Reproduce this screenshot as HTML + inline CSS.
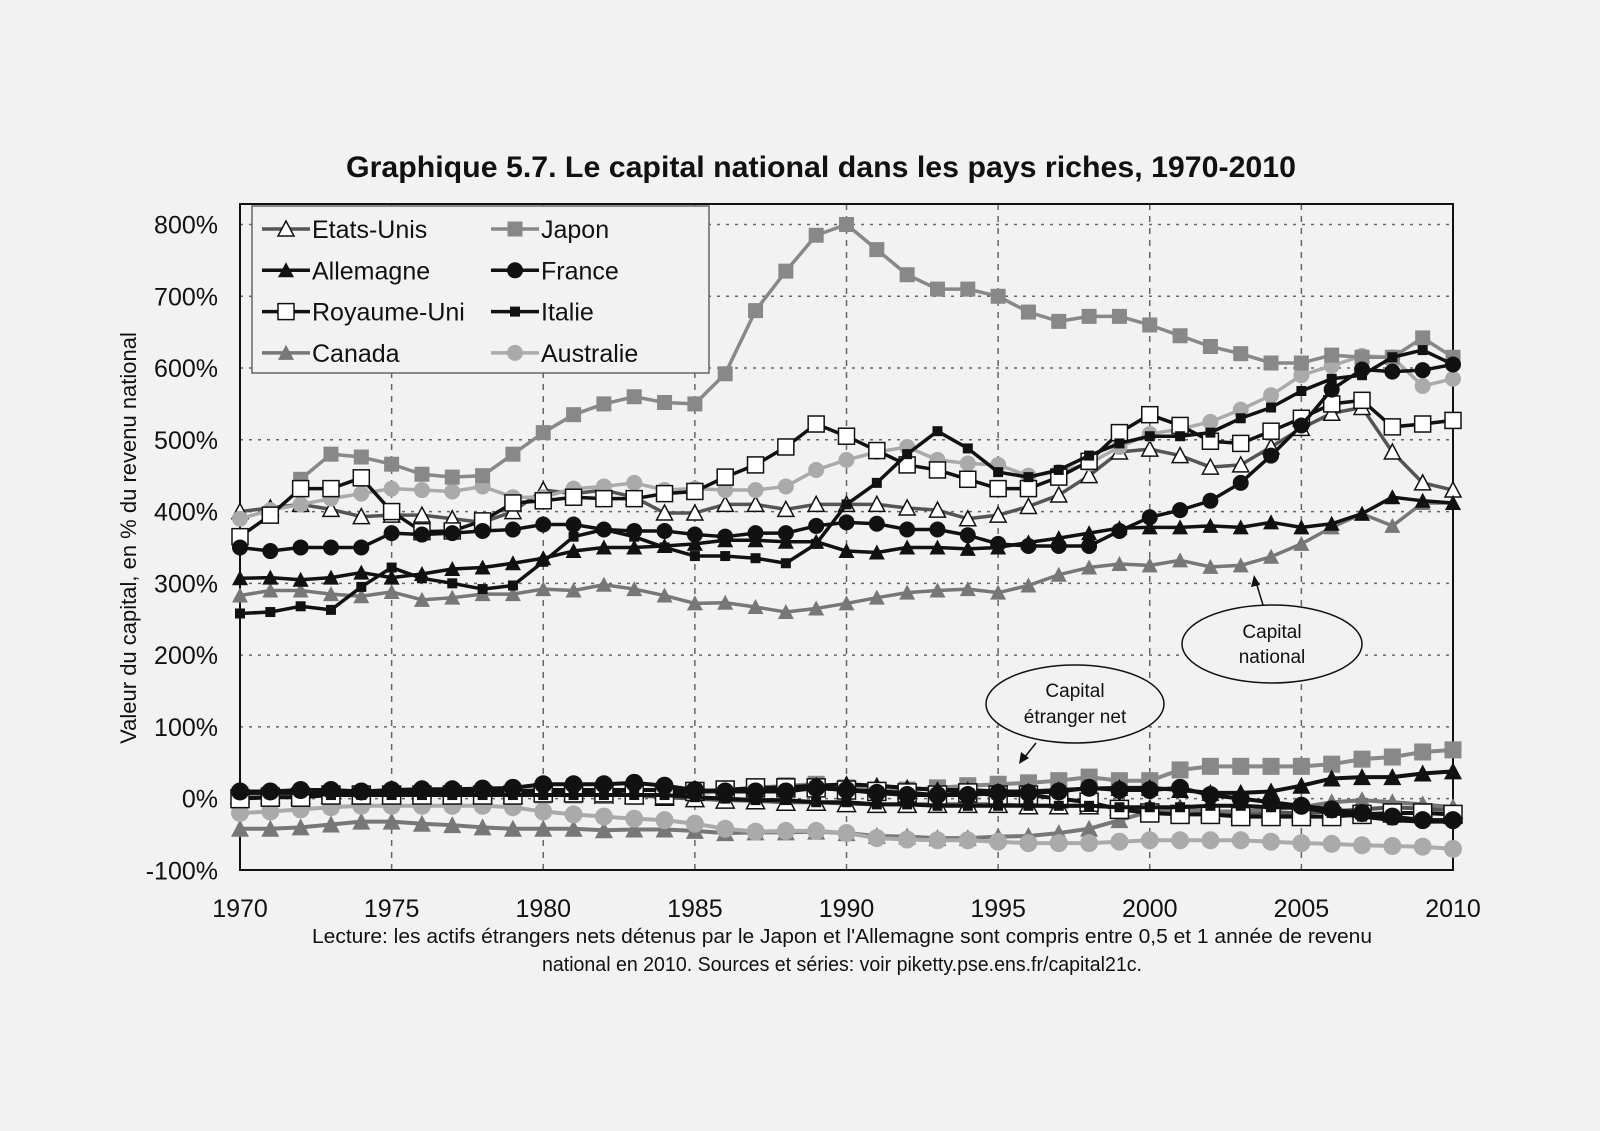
<!DOCTYPE html>
<html><head><meta charset="utf-8"><style>
body{margin:0;background:#f2f2f2;}
svg{display:block;font-family:"Liberation Sans",Arial,sans-serif;}
</style></head><body>
<svg id="chart" width="1600" height="1131" viewBox="0 0 1600 1131">
<rect x="0" y="0" width="1600" height="1131" fill="#f2f2f2"/>
<text x="821" y="177" text-anchor="middle" font-size="30" font-weight="bold" fill="#111" textLength="950" lengthAdjust="spacingAndGlyphs">Graphique 5.7. Le capital national dans les pays riches, 1970-2010</text>
<g id="grid"></g>
<g id="axes"></g>
<g id="series"></g>
<text transform="translate(136,538) rotate(-90)" text-anchor="middle" font-size="22" fill="#111">Valeur du capital, en % du revenu national</text>
<g>
<ellipse cx="1272" cy="644" rx="90" ry="39" fill="#f2f2f2" stroke="#111" stroke-width="1.5"/>
<text x="1272" y="638" text-anchor="middle" font-size="19" fill="#111">Capital</text>
<text x="1272" y="663" text-anchor="middle" font-size="19" fill="#111">national</text>
<line x1="1263" y1="605" x2="1256" y2="582" stroke="#111" stroke-width="1.5"/>
<polygon points="1254,575 1251,587 1260,585" fill="#111"/>
</g>
<g>
<ellipse cx="1075" cy="704" rx="89" ry="39" fill="#f2f2f2" stroke="#111" stroke-width="1.5"/>
<text x="1075" y="697" text-anchor="middle" font-size="19" fill="#111">Capital</text>
<text x="1075" y="723" text-anchor="middle" font-size="19" fill="#111">étranger net</text>
<line x1="1036" y1="743" x2="1024" y2="758" stroke="#111" stroke-width="1.5"/>
<polygon points="1019,764 1021,752 1029,758" fill="#111"/>
</g>
<g id="legend"></g>
<text x="842" y="943" text-anchor="middle" font-size="20" fill="#111" textLength="1060" lengthAdjust="spacingAndGlyphs">Lecture: les actifs étrangers nets détenus par le Japon et l'Allemagne sont compris entre 0,5 et 1 année de revenu</text>
<text x="842" y="971" text-anchor="middle" font-size="20" fill="#111" textLength="600" lengthAdjust="spacingAndGlyphs">national en 2010. Sources et séries: voir piketty.pse.ens.fr/capital21c.</text>
</svg>
<script>
const years=[];for(let y=1970;y<=2010;y++)years.push(y);
const yTicks=[-100,0,100,200,300,400,500,600,700,800];
const xTicks=[1970,1975,1980,1985,1990,1995,2000,2005,2010];
const usNat=[400,405,410,403,393,395,395,390,385,400,430,425,430,420,398,398,410,410,403,410,410,410,405,402,390,395,407,423,450,483,487,478,462,465,490,516,537,545,483,440,430];
const deNat=[307,308,305,308,315,308,313,320,322,328,335,345,350,350,352,355,360,360,358,358,345,343,350,350,348,350,357,363,370,377,378,378,380,378,385,378,383,397,420,415,412];
const ukNat=[365,395,432,432,447,400,372,373,387,412,415,420,418,418,425,428,448,465,490,522,505,485,465,458,445,432,432,448,470,510,535,520,498,495,512,530,550,555,518,522,527];
const caNat=[283,290,290,285,282,288,277,280,285,285,292,290,298,292,283,272,273,267,260,265,272,280,287,290,292,287,297,312,322,327,325,332,323,325,337,355,378,397,380,412,412];
const jpNat=[null,null,445,480,476,466,452,448,450,480,510,535,550,560,552,550,592,680,735,785,800,765,730,710,710,700,678,665,672,672,660,645,630,620,607,607,618,615,615,642,615];
const frNat=[350,345,350,350,350,370,368,370,373,375,382,382,375,373,373,368,365,370,370,380,385,383,375,375,367,355,352,352,352,373,392,402,415,440,478,520,570,598,595,597,605];
const itNat=[258,260,268,263,295,322,307,300,292,297,330,365,375,365,350,338,338,335,328,355,410,440,480,512,488,455,448,458,478,495,505,505,510,530,545,568,585,590,615,625,605];
const auNat=[390,402,410,418,425,432,430,428,435,420,420,432,435,440,430,432,430,430,435,458,472,483,490,472,467,465,450,455,467,490,508,515,525,542,562,590,603,617,615,575,585];
const usFor=[5,5,5,5,5,5,5,5,5,5,8,8,5,5,2,0,-2,-3,-5,-5,-7,-8,-8,-8,-8,-8,-10,-10,-10,-12,-15,-15,-18,-20,-20,-20,-18,-15,-12,-14,-16];
const deFor=[10,10,10,10,10,10,10,10,10,10,12,12,12,12,12,10,12,14,16,18,20,18,15,12,12,10,10,12,14,15,15,12,8,8,10,18,28,30,30,35,38];
const ukFor=[0,2,2,5,5,5,5,5,5,5,8,8,8,5,5,10,12,15,15,15,12,10,8,5,8,5,5,0,-5,-15,-20,-22,-22,-25,-25,-25,-25,-22,-20,-20,-22];
const caFor=[-42,-42,-40,-36,-32,-32,-35,-37,-40,-42,-42,-42,-44,-43,-43,-45,-48,-47,-47,-46,-48,-52,-53,-55,-55,-53,-52,-48,-42,-30,-18,-15,-18,-18,-15,-12,-5,-2,-5,-8,-12];
const jpFor=[5,5,5,5,5,5,5,5,5,5,5,5,5,5,5,8,10,15,18,20,15,12,12,15,18,20,22,25,30,25,25,40,45,45,45,45,48,55,58,65,68];
const frFor=[10,10,12,12,10,12,13,13,14,15,20,20,20,22,18,12,10,10,10,15,12,8,5,5,5,8,8,10,15,12,12,15,5,0,-5,-10,-15,-20,-25,-30,-30];
const itFor=[8,8,8,5,5,5,5,5,5,5,5,5,5,5,5,2,0,-2,-2,-5,-5,-8,-8,-10,-10,-10,-10,-10,-10,-12,-12,-12,-10,-10,-12,-12,-20,-25,-30,-32,-32];
const auFor=[-20,-18,-15,-12,-10,-10,-10,-10,-10,-12,-18,-22,-25,-28,-30,-35,-42,-46,-45,-45,-48,-55,-57,-58,-58,-60,-62,-62,-62,-60,-58,-58,-58,-58,-60,-62,-63,-65,-66,-67,-70];

const L=240,R=1453,T=204,B=870;
const X=y=>L+(y-1970)/40*(R-L);
const Y=v=>870.4-(v+100)/900*(870.4-224.5);
const NS='http://www.w3.org/2000/svg';
function mk(tag,attrs,parent){const e=document.createElementNS(NS,tag);for(const k in attrs)e.setAttribute(k,attrs[k]);parent.appendChild(e);return e;}
const grid=document.getElementById('grid'),axes=document.getElementById('axes'),ser=document.getElementById('series'),leg=document.getElementById('legend');
yTicks.forEach(v=>{
  if(v>-100){const g=mk('line',{x1:L,x2:R,y1:Y(v),y2:Y(v),stroke:'#666','stroke-width':1.5,'stroke-dasharray':'3,6'},grid);
  
  }
  const t=mk('text',{x:218,y:Y(v)+9,'text-anchor':'end','font-size':25,fill:'#111'},axes);t.textContent=v+'%';
  
  
});
xTicks.forEach(y=>{
  if(y>1970&&y<2010){const g=mk('line',{x1:X(y),x2:X(y),y1:T,y2:B,stroke:'#666','stroke-width':1.5,'stroke-dasharray':'6,6'},grid);
  
  }
  const t=mk('text',{x:X(y),y:917,'text-anchor':'middle','font-size':25,fill:'#111'},axes);t.textContent=y;
  
  
});
const fr=mk('rect',{x:L,y:T,width:R-L,height:B-T,fill:'none',stroke:'#111','stroke-width':2},axes);



function marker(type,x,y,s,parent){
  let e;
  if(type==='tri-open')e=mk('polygon',{points:`${x},${y-s} ${x-s},${y+s-1} ${x+s},${y+s-1}`,fill:'#fff',stroke:'#111','stroke-width':1.5},parent);
  else if(type==='tri-black')e=mk('polygon',{points:`${x},${y-s} ${x-s},${y+s-1} ${x+s},${y+s-1}`,fill:'#111'},parent);
  else if(type==='tri-gray')e=mk('polygon',{points:`${x},${y-s} ${x-s},${y+s-1} ${x+s},${y+s-1}`,fill:'#777'},parent);
  else if(type==='sq-open')e=mk('rect',{x:x-s,y:y-s,width:2*s,height:2*s,fill:'#fff',stroke:'#111','stroke-width':1.5},parent);
  else if(type==='sq-gray')e=mk('rect',{x:x-s+0.5,y:y-s+0.5,width:2*s-1,height:2*s-1,fill:'#888'},parent);
  else if(type==='circ-black')e=mk('circle',{cx:x,cy:y,r:s,fill:'#111'},parent);
  else if(type==='circ-gray')e=mk('circle',{cx:x,cy:y,r:s,fill:'#aaa'},parent);
  else if(type==='star'){e=mk('rect',{x:x-5,y:y-5,width:10,height:10,fill:'#111'},parent);}
  return e;
}
const series=[
 {n:'etats-unis',nat:usNat,fo:usFor,c:'#555',m:'tri-open'},
 {n:'canada',nat:caNat,fo:caFor,c:'#777',m:'tri-gray'},
 {n:'australie',nat:auNat,fo:auFor,c:'#aaa',m:'circ-gray'},
 {n:'japon',nat:jpNat,fo:jpFor,c:'#888',m:'sq-gray'},
 {n:'allemagne',nat:deNat,fo:deFor,c:'#111',m:'tri-black'},
 {n:'royaume-uni',nat:ukNat,fo:ukFor,c:'#111',m:'sq-open'},
 {n:'france',nat:frNat,fo:frFor,c:'#111',m:'circ-black'},
 {n:'italie',nat:itNat,fo:itFor,c:'#111',m:'star'}
];
[['fo','foreign'],['nat','national']].forEach(([key,lab])=>{
 series.forEach(s=>{
  const g=mk('g',{},ser);
  
  
  const pts=[];s[key].forEach((v,i)=>{if(v!==null)pts.push([X(years[i]),Y(v)]);});
  const pl=mk('polyline',{points:pts.map(p=>p.join(',')).join(' '),fill:'none',stroke:s.c,'stroke-width':lab==='foreign'?4:3.5,'stroke-linejoin':'round'},g);
  
  
  pts.forEach(p=>{const m=marker(s.m,p[0],p[1],lab==='foreign'?9:8,g);
   
   });
 });
});
const lb=mk('rect',{x:252,y:206,width:457,height:167,fill:'#f2f2f2',stroke:'#666','stroke-width':1.5},leg);


const legendItems=[['Etats-Unis',0,0],['Japon',3,1],['Allemagne',4,0],['France',6,1],['Royaume-Uni',5,0],['Italie',7,1],['Canada',1,0],['Australie',2,1]];
legendItems.forEach((it,i)=>{
  const row=Math.floor(i/2),col=it[2];const s=series[it[1]];
  const cx=col?515:286,cy=229+row*41.3;
  const g=mk('g',{},leg);
  
  
  mk('line',{x1:cx-24,x2:cx+24,y1:cy,y2:cy,stroke:s.c,'stroke-width':3.5},g);
  marker(s.m,cx,cy,8,g);
  const t=mk('text',{x:cx+26,y:cy+9,'font-size':25,fill:'#111'},g);t.textContent=it[0];
});
</script>
</body></html>
